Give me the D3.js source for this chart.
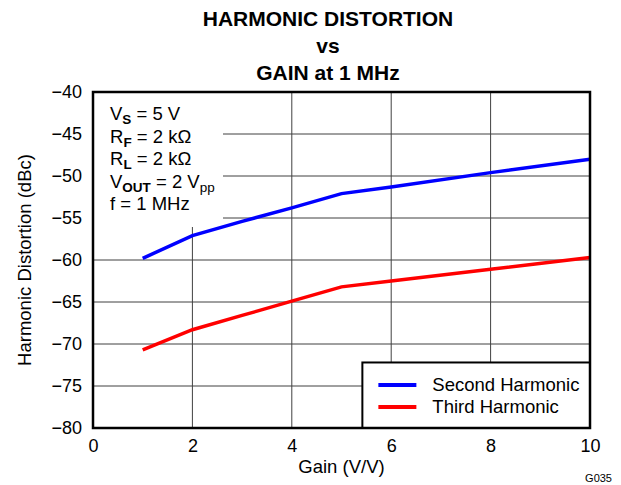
<!DOCTYPE html>
<html>
<head>
<meta charset="utf-8">
<title>Harmonic Distortion vs Gain</title>
<script src="https://cdn.jsdelivr.net/npm/d3@7/dist/d3.min.js"></script>
<style>
  body { margin: 0; background: #fff; }
  text { font-family: Arial, "Liberation Sans", sans-serif; fill: #000; }
</style>
</head>
<body>
<script>
    // data
    var gain = [1, 2, 3, 4, 5, 6, 8, 10];
    var secondHarmonic = [-59.8, -57.1, -55.4, -53.8, -52.1, -51.3, -49.6, -48.0];
    var thirdHarmonic = [-70.7, -68.3, -66.6, -64.9, -63.2, -62.5, -61.1, -59.7];
    var xTicks = [0, 2, 4, 6, 8, 10];
    var yTicks = [-40, -45, -50, -55, -60, -65, -70, -75, -80];
    var seriesNames = ["Second Harmonic", "Third Harmonic"];
    var seriesColors = ["#0000ff", "#ff0000"];

    var W = 621, H = 485;
    var margin = { top: 92, right: 31, bottom: 57, left: 93 };
    var width = W - margin.left - margin.right;
    var height = H - margin.top - margin.bottom;

    var svg = d3.select("body").append("svg")
        .attr("width", W)
        .attr("height", H);

    // title
    var titles = ["HARMONIC DISTORTION", "vs", "GAIN at 1 MHz"];
    svg.selectAll(".title")
        .data(titles)
        .enter()
        .append("text")
        .attr("class", "title")
        .attr("x", 328)
        .attr("y", (d, i) => 26 + i * 27)
        .attr("text-anchor", "middle")
        .style("font-size", "21px")
        .style("font-weight", "bold")
        .text(d => d);

    var g = svg.append("g")
        .attr("transform", "translate(" + margin.left + "," + margin.top + ")");

    var x = d3.scaleLinear().domain([0, 10]).range([0, width]);
    var y = d3.scaleLinear().domain([-80, -40]).range([height, 0]);

    // grid
    g.selectAll(".vgrid")
        .data(xTicks.slice(1, -1))
        .enter()
        .append("line")
        .attr("x1", d => x(d)).attr("x2", d => x(d))
        .attr("y1", 0).attr("y2", height)
        .attr("stroke", "#404040").attr("stroke-width", 1);

    g.selectAll(".hgrid")
        .data(yTicks.slice(1, -1))
        .enter()
        .append("line")
        .attr("x1", 0).attr("x2", width)
        .attr("y1", d => y(d)).attr("y2", d => y(d))
        .attr("stroke", "#404040").attr("stroke-width", 1);

    // annotation box (white, hides grid)
    g.append("rect")
        .attr("x", 0).attr("y", 0)
        .attr("width", 130).attr("height", 135)
        .attr("fill", "#fff");

    // axes
    var xAxis = g.append("g")
        .attr("transform", "translate(0," + height + ")")
        .call(d3.axisBottom(x).tickValues(xTicks).tickSize(0).tickPadding(11));
    var yAxis = g.append("g")
        .call(d3.axisLeft(y).tickValues(yTicks).tickSize(0).tickPadding(11)
            .tickFormat(d => String(d).replace("-", "\u2212")));
    [xAxis, yAxis].forEach(function(a) {
        a.select(".domain").remove();
        a.selectAll("text").style("font-size", "18px").style("font-family", "Arial, 'Liberation Sans', sans-serif");
    });

    // lines
    var line = d3.line()
        .x((d, i) => x(gain[i]))
        .y(d => y(d));

    [secondHarmonic, thirdHarmonic].forEach(function(s, k) {
        g.append("path")
            .datum(s)
            .attr("d", line)
            .attr("fill", "none")
            .attr("stroke", seriesColors[k])
            .attr("stroke-width", 3.5);
    });

    // annotation text
    var ann = g.append("text")
        .style("font-size", "18.5px");
    var annLines = [
        [["V", ""], ["S", "sub-b"], [" = 5 V", ""]],
        [["R", ""], ["F", "sub-b"], [" = 2 k\u03a9", ""]],
        [["R", ""], ["L", "sub-b"], [" = 2 k\u03a9", ""]],
        [["V", ""], ["OUT", "sub-b"], [" = 2 V", ""], ["pp", "sub"]],
        [["f = 1 MHz", ""]]
    ];
    annLines.forEach(function(parts, i) {
        parts.forEach(function(p, j) {
            var t = ann.append("tspan").text(p[0]);
            if (j === 0) t.attr("x", 17).attr("y", 28 + i * 22.5);
            if (p[1] === "sub-b") {
                t.attr("dy", 4).style("font-size", "13.5px").style("font-weight", "bold");
            } else if (p[1] === "sub") {
                t.attr("dy", 4).style("font-size", "13.5px");
            } else if (j > 0) {
                t.attr("dy", -4);
            }
        });
    });

    // legend
    var lx = x(5.42), ly = y(-72.2);
    var lg = g.append("g")
        .attr("transform", "translate(" + lx + "," + ly + ")");
    lg.append("rect")
        .attr("x", 0).attr("y", 0)
        .attr("width", width - lx).attr("height", height - ly)
        .attr("fill", "#fff")
        .attr("stroke", "#000")
        .attr("stroke-width", 2);
    seriesNames.forEach(function(n, i) {
        lg.append("line")
            .attr("x1", 16).attr("x2", 54)
            .attr("y1", 22.5 + i * 22).attr("y2", 22.5 + i * 22)
            .attr("stroke", seriesColors[i])
            .attr("stroke-width", 4);
        lg.append("text")
            .attr("x", 70)
            .attr("y", 29 + i * 22)
            .style("font-size", "18.5px")
            .text(n);
    });

    // frame
    g.append("rect")
        .attr("width", width).attr("height", height)
        .attr("fill", "none")
        .attr("stroke", "#000")
        .attr("stroke-width", 2.5);

    // axis labels
    svg.append("text")
        .attr("x", margin.left + width / 2)
        .attr("y", 473)
        .attr("text-anchor", "middle")
        .style("font-size", "18.5px")
        .text("Gain (V/V)");

    svg.append("text")
        .attr("transform", "translate(31," + (margin.top + height / 2) + ") rotate(-90)")
        .attr("text-anchor", "middle")
        .style("font-size", "18.5px")
        .text("Harmonic Distortion (dBc)");

    svg.append("text")
        .attr("x", 612)
        .attr("y", 482)
        .attr("text-anchor", "end")
        .style("font-size", "11px")
        .text("G035");
</script>
</body>
</html>
